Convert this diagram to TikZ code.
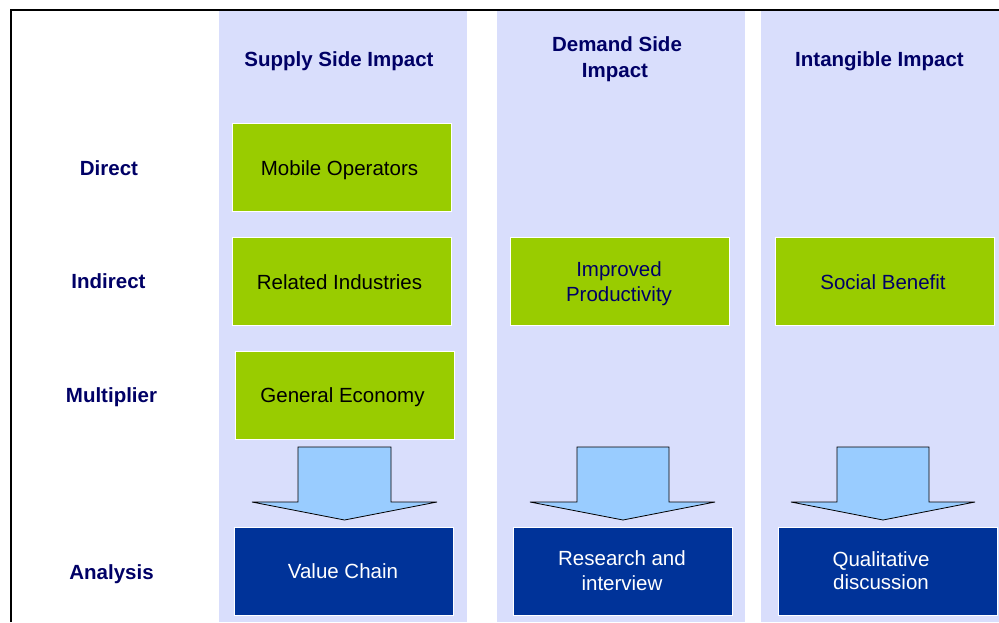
\documentclass[tikz,border=0pt]{standalone}
\usepackage{fontspec}
\setmainfont{Liberation Sans}
\definecolor{lav}{HTML}{D9DEFC}
\definecolor{grn}{HTML}{99CC00}
\definecolor{dblue}{HTML}{003399}
\definecolor{lblue}{HTML}{99CCFF}
\definecolor{navy}{HTML}{000066}
\begin{document}
\begin{tikzpicture}[x=1pt,y=-1pt,
  colband/.style={fill=lav},
  gbox/.style={draw=white, line width=0.8pt, fill=grn, minimum width=219pt, minimum height=88pt, inner sep=0pt, outer sep=0pt},
  bbox/.style={draw=white, line width=0.8pt, fill=dblue, minimum width=219pt, minimum height=88pt, inner sep=0pt, outer sep=0pt},
  hdr/.style={font=\fontsize{20.5}{25}\selectfont\bfseries, text=navy, anchor=base, inner sep=0pt},
  txt/.style={font=\fontsize{20.5}{25}\selectfont, anchor=base, inner sep=0pt},
  blockarrow/.style={fill=lblue, draw=black, line width=0.8pt, line join=miter}]
\useasboundingbox (0,0) rectangle (999,622);
\fill[white] (0,0) rectangle (999,622);
% column bands
\fill[colband] (219,11) rectangle (467,622);
\fill[colband] (497,11) rectangle (745,622);
\fill[colband] (761,11) rectangle (999,622);
% frame
\draw[line width=2pt] (11,622) -- (11,10) -- (999,10);
% headers
\node[hdr] (h1) at (339,66.5) {Supply Side Impact};
\node[hdr] (h2a) at (617,51.7) {Demand Side};
\node[hdr] (h2b) at (615,77.3) {Impact};
\node[hdr] (h3) at (879.5,66.5) {Intangible Impact};
% row labels
\node[hdr] (r1) at (109,175) {Direct};
\node[hdr] (r2) at (108.5,288) {Indirect};
\node[hdr] (r3) at (111.5,402) {Multiplier};
\node[hdr] (r4) at (111.5,579) {Analysis};
% green boxes
\node[gbox] (mo) at (342,167.5) {};
\node[gbox] (ri) at (341.5,281.5) {};
\node[gbox] (ge) at (344.5,395) {};
\node[gbox] (ip) at (620,281.5) {};
\node[gbox] (sb) at (884.5,281.5) {};
% analysis boxes
\node[bbox] (vc) at (344,571) {};
\node[bbox] (rs) at (622.5,571) {};
\node[bbox] (qd) at (887.5,571) {};
% box texts
\node[txt] (tmo) at (339.5,175.7) {Mobile Operators};
\node[txt] (tri) at (339.5,289) {Related Industries};
\node[txt] (tge) at (342.5,402.7) {General Economy};
\node[txt, text=navy] (tip1) at (619,276.7) {Improved};
\node[txt, text=navy] (tip2) at (619,301.7) {Productivity};
\node[txt, text=navy] (tsb) at (883,289) {Social Benefit};
\node[txt, text=white] (tvc) at (343,578.3) {Value Chain};
\node[txt, text=white] (trs1) at (622,565) {Research and};
\node[txt, text=white] (trs2) at (622,590) {interview};
\node[txt, text=white] (tqd1) at (881,566.7) {Qualitative};
\node[txt, text=white] (tqd2) at (881,589.3) {discussion};
% block arrows
\draw[blockarrow] (298,447) -- (391,447) -- (391,502) -- (437,502) -- (344.5,520) -- (252,502) -- (298,502) -- cycle;
\draw[blockarrow] (577,447) -- (669,447) -- (669,502) -- (715,502) -- (623,520) -- (530,502) -- (577,502) -- cycle;
\draw[blockarrow] (837,447) -- (929,447) -- (929,502) -- (975,502) -- (883,520) -- (791,502) -- (837,502) -- cycle;
\end{tikzpicture}
\end{document}
